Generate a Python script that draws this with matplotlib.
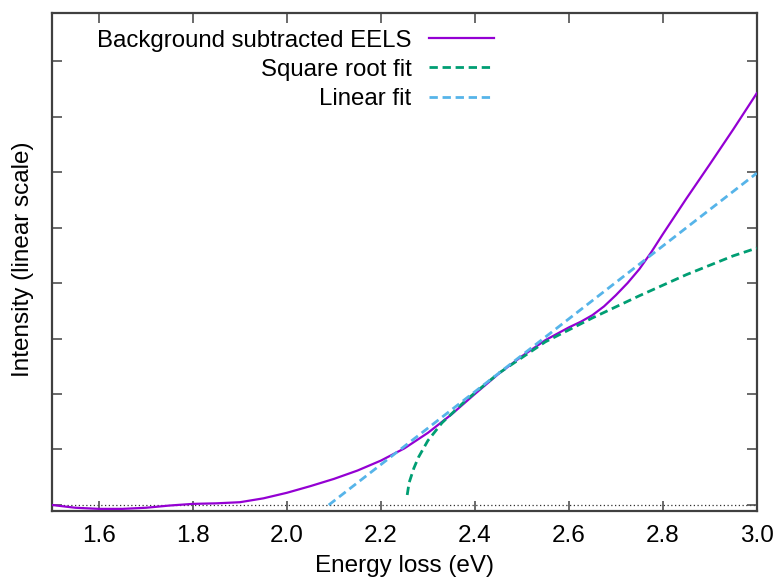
import numpy as np
import matplotlib
matplotlib.use("Agg")
import matplotlib.pyplot as plt

plt.rcParams['font.family'] = ['Liberation Sans', 'DejaVu Sans']

# Background subtracted EELS
eels_x = [1.50, 1.55, 1.60, 1.65, 1.70, 1.75, 1.80, 1.85, 1.90, 1.95, 2.00, 2.05,
          2.10, 2.15, 2.20, 2.25, 2.30, 2.35, 2.40, 2.45, 2.50, 2.55, 2.60, 2.625,
          2.65, 2.675, 2.70, 2.725, 2.75, 2.775, 2.80, 2.85, 2.90, 2.95, 3.00]
eels_y = [0.00, -0.05, -0.07, -0.07, -0.05, -0.01, 0.02, 0.03, 0.05, 0.12, 0.22, 0.34,
          0.47, 0.62, 0.80, 1.02, 1.30, 1.63, 2.00, 2.36, 2.68, 2.97, 3.20, 3.30,
          3.42, 3.58, 3.78, 4.00, 4.25, 4.55, 4.88, 5.52, 6.14, 6.77, 7.42]

# Square root fit
sqrt_x = [2.256, 2.26, 2.27, 2.28, 2.30, 2.33, 2.38, 2.45, 2.55, 2.65, 2.75, 2.85, 2.95, 3.00]
sqrt_y = [0.18, 0.40, 0.66, 0.86, 1.16, 1.48, 1.88, 2.37, 2.94, 3.37, 3.77, 4.15, 4.49, 4.63]

# Linear fit
lin_x = [2.089, 3.00]
lin_y = [0.00, 5.98]

xticks = [1.6, 1.8, 2.0, 2.2, 2.4, 2.6, 2.8, 3.0]

fig = plt.figure(figsize=(7.77, 5.80), dpi=100)
ax = fig.add_axes([0.0669, 0.119, 0.9071, 0.859])

ax.axhline(0, color='#303030', lw=0.9, ls=(0, (1, 2)), zorder=1)
ax.plot(eels_x, eels_y, color='#9400d3', lw=1.6, label='Background subtracted EELS', zorder=3)
ax.plot(sqrt_x, sqrt_y, color='#009e73', lw=2.0, ls=(0, (3, 1.7)), label='Square root fit', zorder=4)
ax.plot(lin_x, lin_y, color='#56b4e9', lw=2.0, ls=(0, (3, 1.7)), label='Linear fit', zorder=4)

ax.set_xlim(1.5, 3.0)
ax.set_ylim(-0.108, 8.87)
ax.set_xticks(xticks)
ax.set_xticklabels([f"{t:.1f}" for t in xticks])
ax.set_yticks(range(0, 9))
ax.tick_params(axis='both', direction='in', length=7, width=1.2, color='#505050',
               top=True, right=True, labelsize=17.5, pad=10)
ax.tick_params(axis='y', labelleft=False)
for s in ax.spines.values():
    s.set_color('#404040')
    s.set_linewidth(1.6)

ax.set_xlabel('Energy loss (eV)', fontsize=17.5)
ax.set_ylabel('Intensity (linear scale)', fontsize=17.5)
ax.xaxis.set_label_coords(0.5, -0.088)
ax.yaxis.set_label_coords(-0.026, 0.505)

ax.legend(loc='upper left', bbox_to_anchor=(0.0638, 0.966), frameon=False, markerfirst=False,
          fontsize=17.3, handlelength=2.7, handletextpad=0.72, labelspacing=0.3,
          borderpad=0, borderaxespad=0)

fig.savefig('out.png', dpi=100)
